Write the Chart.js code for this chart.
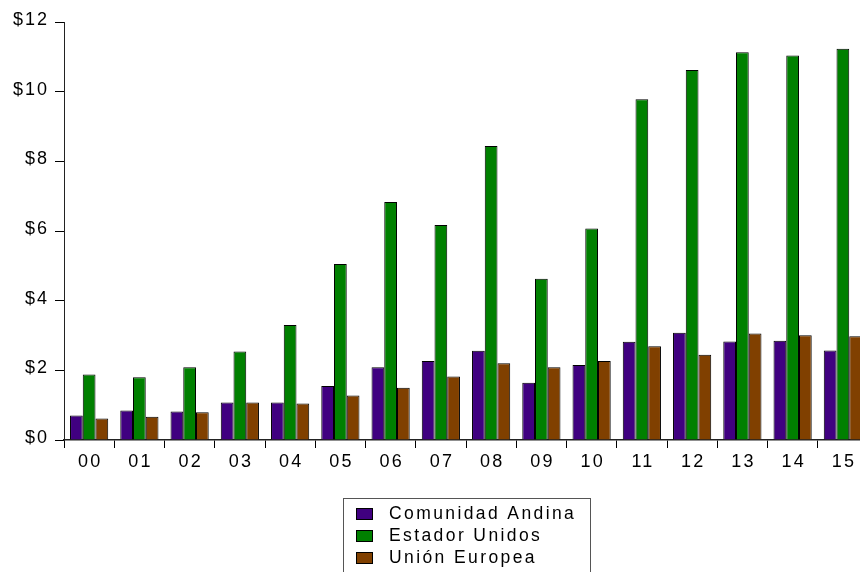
<!DOCTYPE html>
<html>
<head>
<meta charset="utf-8">
<script src="https://cdn.jsdelivr.net/npm/chart.js@4.4.1/dist/chart.umd.min.js"></script>
<style>
  html, body { margin: 0; padding: 0; background: #fff; overflow: hidden; }
  #wrap { position: relative; width: 868px; height: 572px; }
</style>
</head>
<body>
<div id="wrap"><canvas id="c" width="868" height="572"></canvas></div>
<script>
// Years (two-digit) on the category axis
const years = ['00','01','02','03','04','05','06','07','08','09','10','11','12','13','14','15'];

// Values in billions of dollars
const comunidadAndina = [0.70, 0.85, 0.82, 1.08, 1.08, 1.55, 2.09, 2.27, 2.56, 1.64, 2.15, 2.82, 3.08, 2.83, 2.85, 2.57];
const estadosUnidos   = [1.88, 1.80, 2.09, 2.54, 3.30, 5.05, 6.83, 6.17, 8.44, 4.63, 6.07, 9.78, 10.62, 11.13, 11.04, 11.23];
const unionEuropea    = [0.62, 0.67, 0.80, 1.08, 1.05, 1.28, 1.50, 1.82, 2.20, 2.09, 2.27, 2.69, 2.45, 3.06, 3.01, 2.98];

const seriesNames = ['Comunidad Andina', 'Estador Unidos', 'Unión Europea'];
const seriesColors = ['#400080', '#008000', '#804000'];

const FONT = 'Liberation Sans, Arial, sans-serif';
const SPACING = '2px';

// Slightly widened letter spacing for every text drawn on the canvas
const spacedText = {
  id: 'spacedText',
  beforeUpdate(chart) { chart.ctx.letterSpacing = SPACING; },
  beforeLayout(chart) { chart.ctx.letterSpacing = SPACING; },
  beforeDraw(chart) { chart.ctx.letterSpacing = SPACING; }
};

// Boxed, vertically stacked legend drawn under the plot
const boxedLegend = {
  id: 'boxedLegend',
  afterDraw(chart) {
    const ctx = chart.ctx;
    const x0 = 343.5, y0 = 498.5, w = 247, h = 90;
    ctx.save();
    ctx.letterSpacing = '2.4px';
    ctx.strokeStyle = '#555';
    ctx.lineWidth = 1;
    ctx.strokeRect(x0, y0, w, h);
    ctx.font = '17.5px ' + FONT;
    ctx.textBaseline = 'middle';
    chart.data.datasets.forEach((ds, i) => {
      const cy = 514 + i * 22;
      ctx.fillStyle = ds.backgroundColor;
      ctx.fillRect(356, cy - 6, 17, 12);
      ctx.strokeStyle = '#000';
      ctx.strokeRect(356.5, cy - 5.5, 16, 11);
      ctx.fillStyle = '#000';
      ctx.fillText(ds.label, 389, cy);
    });
    ctx.restore();
  }
};

const datasets = [comunidadAndina, estadosUnidos, unionEuropea].map((vals, i) => ({
  label: seriesNames[i],
  data: vals,
  backgroundColor: seriesColors[i],
  borderColor: '#000',
  borderWidth: 1,
  borderSkipped: 'bottom',
  barPercentage: 1.0,
  categoryPercentage: 0.76
}));

new Chart(document.getElementById('c'), {
  type: 'bar',
  data: { labels: years, datasets },
  options: {
    responsive: false,
    animation: false,
    layout: { padding: { top: 22, right: 0, bottom: 100, left: 0 } },
    plugins: {
      legend: { display: false },
      tooltip: { enabled: false }
    },
    scales: {
      x: {
        grid: {
          display: true,
          drawOnChartArea: false,
          drawTicks: true,
          tickLength: 8,
          color: '#000',
          offset: true
        },
        border: { display: true, color: '#222', width: 1.5 },
        ticks: {
          color: '#000',
          font: { family: FONT, size: 18 },
          padding: 3,
          labelOffset: 1,
          maxRotation: 0
        },
        afterFit(scale) { scale.height = 32; }
      },
      y: {
        min: 0,
        max: 12,
        grid: {
          display: true,
          drawOnChartArea: false,
          drawTicks: true,
          tickLength: 9,
          color: '#000'
        },
        border: { display: true, color: '#222', width: 1 },
        ticks: {
          stepSize: 2,
          color: '#000',
          font: { family: FONT, size: 18 },
          padding: 6,
          labelOffset: -2,
          callback: v => '$' + v
        },
        afterFit(scale) { scale.width = 64; }
      }
    }
  },
  plugins: [spacedText, boxedLegend]
});
</script>
</body>
</html>
